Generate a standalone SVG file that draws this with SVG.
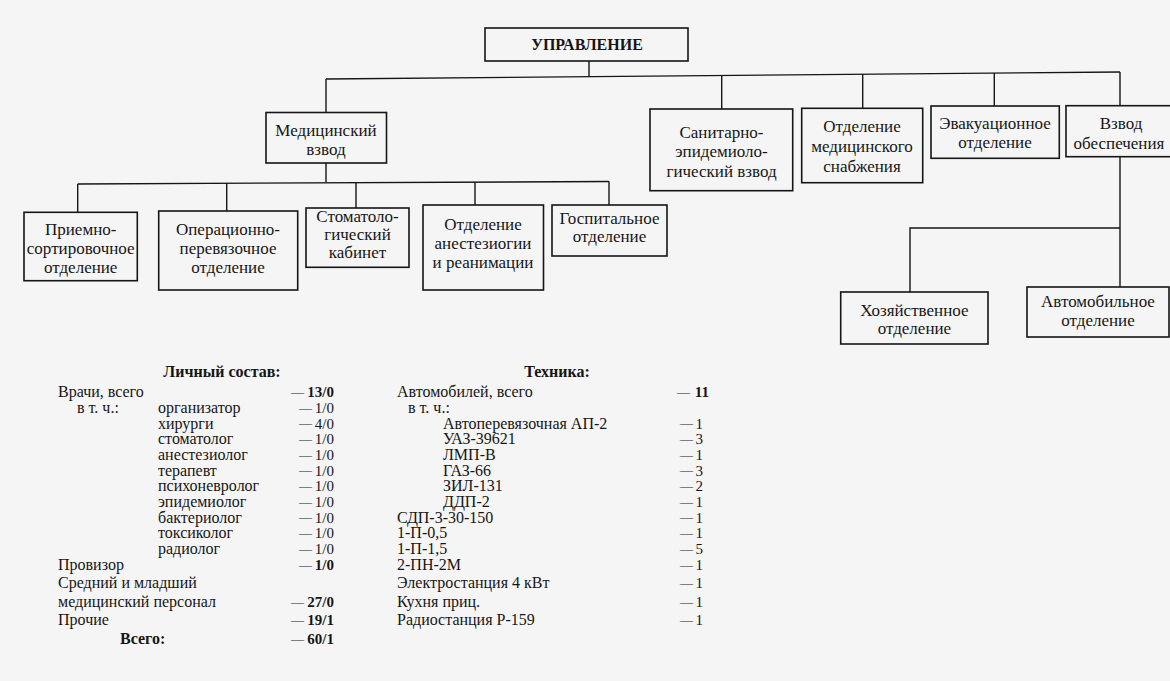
<svg xmlns="http://www.w3.org/2000/svg" width="1170" height="681" viewBox="0 0 1170 681">
<style>
.bx{fill:none;stroke:#151515;stroke-width:1.6}
.ln{fill:none;stroke:#151515;stroke-width:1.4}
.t{font-family:"Liberation Serif","Times New Roman",serif;font-size:17px;fill:#151515;text-anchor:middle}
.tb{font-family:"Liberation Serif","Times New Roman",serif;font-size:16px;font-weight:bold;fill:#151515;text-anchor:middle}
.s{font-family:"Liberation Serif","Times New Roman",serif;font-size:16px;fill:#151515}
.sb{font-weight:bold}
.r{text-anchor:end;font-size:15px}
.d{font-size:13px}
</style>
<rect width="1170" height="681" fill="#f5f5f5"/>
<g id="connectors" class="ln">
<path d="M589 61V76.7"/>
<path d="M326 79L1120 72"/>
<path d="M326 79V112.5"/>
<path d="M721.7 75.5V109"/>
<path d="M862.7 74.3V108.3"/>
<path d="M994.3 73.1V106"/>
<path d="M1120 72V105.7"/>
<path d="M326 163V182.6"/>
<path d="M77.7 184L609 181.5"/>
<path d="M77.7 184V212.3"/>
<path d="M226.7 183.3V211"/>
<path d="M356 182.7V208"/>
<path d="M475 182.1V205"/>
<path d="M609 181.5V205"/>
<path d="M1120 156.7V287"/>
<path d="M1120 228H910V292"/>
</g>
<g id="upravlenie"><rect class="bx" x="485" y="28" width="203" height="33"/><text class="tb" x="587" y="50">УПРАВЛЕНИЕ</text></g>
<g id="med-vzvod"><rect class="bx" x="266" y="112.5" width="120.5" height="50.5"/><text class="t" x="326" y="136">Медицинский</text><text class="t" x="326" y="155">взвод</text></g>
<g id="sanepid"><rect class="bx" x="650" y="109" width="142.7" height="81.7"/><text class="t" x="721.5" y="138">Санитарно-</text><text class="t" x="721.5" y="157">эпидемиоло-</text><text class="t" x="721.5" y="177">гический взвод</text></g>
<g id="medsnab"><rect class="bx" x="801.7" y="108.3" width="121" height="74.4"/><text class="t" x="862" y="132">Отделение</text><text class="t" x="862" y="152">медицинского</text><text class="t" x="862" y="172">снабжения</text></g>
<g id="evak"><rect class="bx" x="931" y="106" width="128.3" height="52.3"/><text class="t" x="995" y="129">Эвакуационное</text><text class="t" x="995" y="148">отделение</text></g>
<g id="obesp"><rect class="bx" x="1066" y="105.7" width="120" height="51"/><text class="t" x="1121" y="129">Взвод</text><text class="t" x="1119" y="149">обеспечения</text></g>
<g id="priemno"><rect class="bx" x="24" y="212.3" width="113.3" height="68.4"/><text class="t" x="80.7" y="235">Приемно-</text><text class="t" x="80.7" y="254">сортировочное</text><text class="t" x="80.7" y="273">отделение</text></g>
<g id="operac"><rect class="bx" x="158.7" y="211" width="139" height="79"/><text class="t" x="228" y="235">Операционно-</text><text class="t" x="228" y="254">перевязочное</text><text class="t" x="228" y="273">отделение</text></g>
<g id="stomat"><rect class="bx" x="306" y="208" width="103" height="59.3"/><text class="t" x="357.5" y="222">Стоматоло-</text><text class="t" x="357.5" y="240">гический</text><text class="t" x="357.5" y="258">кабинет</text></g>
<g id="anest"><rect class="bx" x="423" y="205" width="120.5" height="85"/><text class="t" x="483" y="230">Отделение</text><text class="t" x="483" y="249">анестезиогии</text><text class="t" x="483" y="268">и реанимации</text></g>
<g id="gospit"><rect class="bx" x="552" y="205" width="115" height="51"/><text class="t" x="609.5" y="224">Госпитальное</text><text class="t" x="609.5" y="242">отделение</text></g>
<g id="hoz"><rect class="bx" x="840.7" y="292" width="147.3" height="52"/><text class="t" x="914.4" y="316">Хозяйственное</text><text class="t" x="914.4" y="334">отделение</text></g>
<g id="avto"><rect class="bx" x="1027" y="287" width="142" height="50"/><text class="t" x="1098" y="307">Автомобильное</text><text class="t" x="1098" y="326">отделение</text></g>
<g id="personnel" class="s">
<text class="tb" x="222" y="377">Личный состав:</text>
<text x="58" y="397">Врачи, всего</text>
<text x="77" y="413">в т. ч.:</text>
<text x="158" y="413">организатор</text>
<text x="158" y="428.5">хирурги</text>
<text x="158" y="444">стоматолог</text>
<text x="158" y="460">анестезиолог</text>
<text x="158" y="475.5">терапевт</text>
<text x="158" y="491">психоневролог</text>
<text x="158" y="507">эпидемиолог</text>
<text x="158" y="522.5">бактериолог</text>
<text x="158" y="538">токсиколог</text>
<text x="158" y="554">радиолог</text>
<text x="58" y="570">Провизор</text>
<text x="58" y="588">Средний и младший</text>
<text x="58" y="607">медицинский персонал</text>
<text x="58" y="625">Прочие</text>
<text class="sb" x="120" y="644">Всего:</text>
<text class="d" x="291" y="395.5">—</text><text class="r sb" x="334" y="397">13/0</text>
<text class="d" x="299" y="411.5">—</text><text class="r" x="334" y="413">1/0</text>
<text class="d" x="299" y="427">—</text><text class="r" x="334" y="428.5">4/0</text>
<text class="d" x="299" y="442.5">—</text><text class="r" x="334" y="444">1/0</text>
<text class="d" x="299" y="458.5">—</text><text class="r" x="334" y="460">1/0</text>
<text class="d" x="299" y="474">—</text><text class="r" x="334" y="475.5">1/0</text>
<text class="d" x="299" y="489.5">—</text><text class="r" x="334" y="491">1/0</text>
<text class="d" x="299" y="505.5">—</text><text class="r" x="334" y="507">1/0</text>
<text class="d" x="299" y="521">—</text><text class="r" x="334" y="522.5">1/0</text>
<text class="d" x="299" y="536.5">—</text><text class="r" x="334" y="538">1/0</text>
<text class="d" x="299" y="552.5">—</text><text class="r" x="334" y="554">1/0</text>
<text class="d" x="299" y="568.5">—</text><text class="r sb" x="334" y="570">1/0</text>
<text class="d" x="291" y="605.5">—</text><text class="r sb" x="334" y="607">27/0</text>
<text class="d" x="291" y="623.5">—</text><text class="r sb" x="334" y="625">19/1</text>
<text class="d" x="291" y="642.5">—</text><text class="r sb" x="334" y="644">60/1</text>
</g>
<g id="equipment" class="s">
<text class="tb" x="557" y="377">Техника:</text>
<text x="397" y="397">Автомобилей, всего</text>
<text x="408" y="413">в т. ч.:</text>
<text x="443" y="428.5">Автоперевязочная АП-2</text>
<text x="443" y="444">УАЗ-39621</text>
<text x="443" y="460">ЛМП-В</text>
<text x="443" y="475.5">ГАЗ-66</text>
<text x="443" y="491">ЗИЛ-131</text>
<text x="443" y="507">ДДП-2</text>
<text x="397" y="522.5">СДП-3-30-150</text>
<text x="397" y="538">1-П-0,5</text>
<text x="397" y="554">1-П-1,5</text>
<text x="397" y="570">2-ПН-2М</text>
<text x="397" y="588">Электростанция 4 кВт</text>
<text x="397" y="607">Кухня приц.</text>
<text x="397" y="625">Радиостанция Р-159</text>
<text class="d" x="677" y="395.5">—</text><text class="r sb" x="709" y="397">11</text>
<text class="d" x="680" y="427">—</text><text class="r" x="703" y="428.5">1</text>
<text class="d" x="680" y="442.5">—</text><text class="r" x="703" y="444">3</text>
<text class="d" x="680" y="458.5">—</text><text class="r" x="703" y="460">1</text>
<text class="d" x="680" y="474">—</text><text class="r" x="703" y="475.5">3</text>
<text class="d" x="680" y="489.5">—</text><text class="r" x="703" y="491">2</text>
<text class="d" x="680" y="505.5">—</text><text class="r" x="703" y="507">1</text>
<text class="d" x="680" y="521">—</text><text class="r" x="703" y="522.5">1</text>
<text class="d" x="680" y="536.5">—</text><text class="r" x="703" y="538">1</text>
<text class="d" x="680" y="552.5">—</text><text class="r" x="703" y="554">5</text>
<text class="d" x="680" y="568.5">—</text><text class="r" x="703" y="570">1</text>
<text class="d" x="680" y="586.5">—</text><text class="r" x="703" y="588">1</text>
<text class="d" x="680" y="605.5">—</text><text class="r" x="703" y="607">1</text>
<text class="d" x="680" y="623.5">—</text><text class="r" x="703" y="625">1</text>
</g>
</svg>
